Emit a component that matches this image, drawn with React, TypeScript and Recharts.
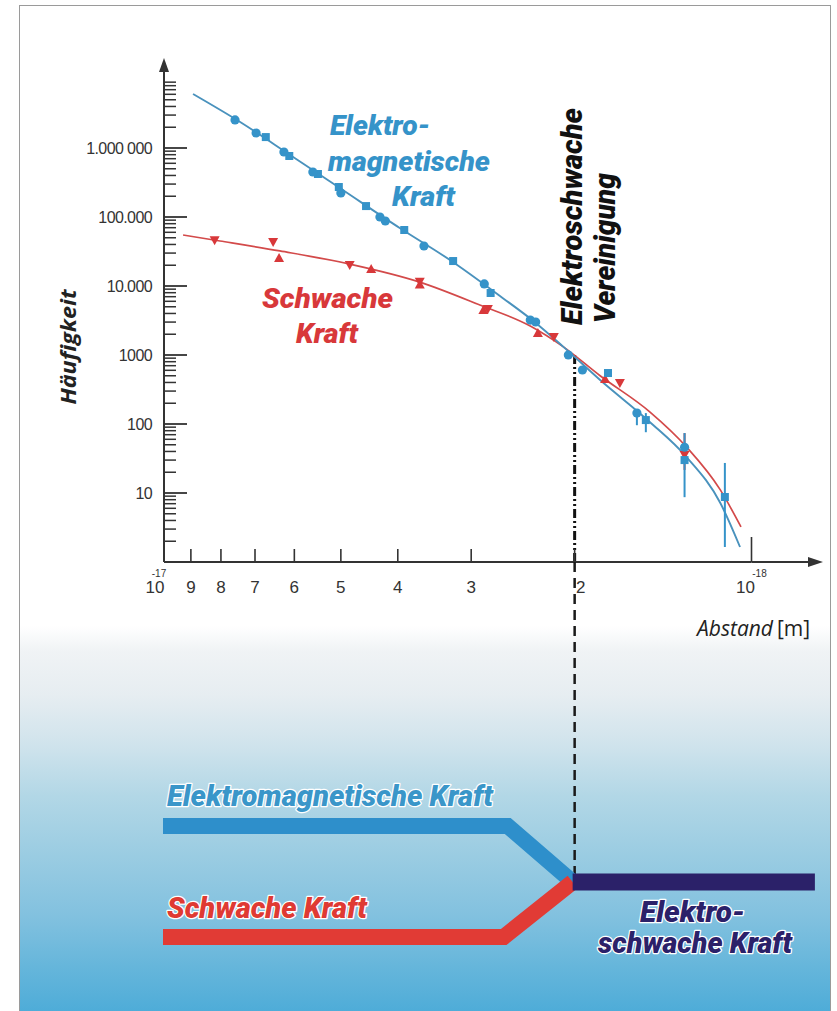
import React from 'react';
import { ComposedChart, Line, Scatter, XAxis, YAxis, ErrorBar, ReferenceLine } from 'recharts';

// ---------- data (x in units of 1e-18 m, y = Häufigkeit) ----------
const emCircles = [
  { x: 7.57, y: 2550000 }, { x: 6.97, y: 1650000 }, { x: 6.25, y: 875000 },
  { x: 5.58, y: 449000 }, { x: 5.0, y: 223000 }, { x: 4.29, y: 100000 },
  { x: 4.2, y: 87500 }, { x: 3.61, y: 38000 }, { x: 2.85, y: 10700 },
  { x: 2.38, y: 3210 }, { x: 2.33, y: 3010 }, { x: 2.05, y: 1000 },
  { x: 1.94, y: 606 }, { x: 1.567, y: 144, err: [48, 16] }, { x: 1.3, y: 46 },
];
const emSquares = [
  { x: 6.71, y: 1440000 }, { x: 6.12, y: 766000 }, { x: 5.47, y: 420000 },
  { x: 5.04, y: 272000 }, { x: 4.53, y: 144000 }, { x: 3.9, y: 64800 },
  { x: 3.22, y: 23000 }, { x: 2.78, y: 7920 }, { x: 1.755, y: 548 },
  { x: 1.513, y: 114, err: [38, 30] }, { x: 1.3, y: 30, err: [21.3, 44] },
  { x: 1.11, y: 8.75, err: [7.1, 18.5] },
];
const weakDown = [
  { x: 8.2, y: 46000 }, { x: 6.52, y: 43400 }, { x: 4.83, y: 20200 },
  { x: 3.67, y: 11500 }, { x: 2.81, y: 4640 }, { x: 2.17, y: 1820 },
  { x: 1.675, y: 393 }, { x: 1.3, y: 35.6, err: [14, 38] },
];
const weakUp = [
  { x: 6.37, y: 25500 }, { x: 4.44, y: 17600 }, { x: 3.67, y: 10500 },
  { x: 2.86, y: 4490 }, { x: 2.31, y: 2080 }, { x: 1.775, y: 449 },
];
const emFit = [
  { x: 8.925, y: 6060000 }, { x: 7.42, y: 2380000 }, { x: 6.1, y: 792000 },
  { x: 5.02, y: 263000 }, { x: 3.97, y: 69300 }, { x: 3.26, y: 23800 },
  { x: 2.68, y: 7160 }, { x: 2.34, y: 3010 }, { x: 2.09, y: 1310 },
  { x: 1.81, y: 434 }, { x: 1.49, y: 107 }, { x: 1.29, y: 33.2 },
  { x: 1.13, y: 7.16 }, { x: 1.046, y: 1.65 },
];
const weakFit = [
  { x: 9.28, y: 54800 }, { x: 8.03, y: 44900 }, { x: 6.35, y: 32200 },
  { x: 4.83, y: 20800 }, { x: 3.67, y: 11400 }, { x: 2.9, y: 5310 },
  { x: 2.38, y: 2630 }, { x: 2.09, y: 1310 }, { x: 1.81, y: 500 },
  { x: 1.49, y: 150 }, { x: 1.29, y: 46.4 }, { x: 1.13, y: 11.1 },
  { x: 1.042, y: 3.22 },
];

// ---------- ticks ----------
const xTickValues = [10, 9, 8, 7, 6, 5, 4, 3, 2, 1];
const xTickLabels = ['10', '9', '8', '7', '6', '5', '4', '3', '2', '10'];
const xTickExponents = ['-17', '', '', '', '', '', '', '', '', '-18'];
const yMajorValues = [10, 100, 1000, 10000, 100000, 1000000];
const yMajorLabels = ['10', '100', '1000', '10.000', '100.000', '1.000 000'];
const yDecades = [1, 10, 100, 1000, 10000, 100000, 1000000];
const yMultipliers = [1, 2, 3, 4, 5, 6, 7, 8, 9];
const yAllTicks = yDecades.flatMap((d) => yMultipliers.map((m) => d * m)).filter((v) => v > 1);

const unificationX = 2; // Elektroschwache Vereinigung
const schemeX = { start: 10, bend: 2.6, merge: 2, end: 0.78 };

// ---------- layout ----------
const W = 837;
const H = 1011;
const PLOT = { left: 164, right: 751.5, top: 79, bottom: 562 };
const Y_AXIS_W = 60;
const X_AXIS_H = 40;
const pxX = (v: number) => PLOT.left + (1 - Math.log10(v)) * (PLOT.right - PLOT.left);

const BLUE = '#3593c9';
const BLUE_LINE = '#4a92bd';
const RED = '#d8383a';
const RED_LINE = '#d34a4a';
const NAVY = '#2b2169';
const AXIS = '#333';
const SANS = '"Liberation Sans", Arial, sans-serif';
const COND = 'Roboto, "Liberation Sans", sans-serif';

const XTick = (props: any) => {
  const { x, y, payload } = props;
  const i = xTickValues.indexOf(payload.value);
  const label = xTickLabels[i];
  const exp = xTickExponents[i];
  const isLeft = payload.value === 10;
  const isRight = payload.value === 1;
  const dx = isLeft ? -9 : isRight ? -6 : payload.value === 2 ? 6 : 0;
  return (
    <g>
      {!isLeft && (
        <line x1={x} y1={y} x2={x} y2={y - (isRight ? 25 : 13)} stroke={AXIS} strokeWidth={1.6} />
      )}
      <text x={x + dx} y={y + 31} textAnchor="middle" fontFamily={SANS} fontSize={17} fill={AXIS}>
        {label}
      </text>
      {exp && (
        <text x={x + dx + (isLeft ? 4 : 14)} y={y + 15} textAnchor="middle" fontFamily={SANS} fontSize={10} fill={AXIS}>
          {exp}
        </text>
      )}
    </g>
  );
};

const YTick = (props: any) => {
  const { x, y, payload } = props;
  const i = yMajorValues.indexOf(payload.value);
  const major = i >= 0;
  return (
    <g>
      <line x1={x} y1={y} x2={x + (major ? 23 : 12)} y2={y} stroke={AXIS} strokeWidth={major ? 1.8 : 1.5} />
      {major && (
        <text x={x - 12} y={y + 6} textAnchor="end" fontFamily={SANS} fontSize={16} letterSpacing={-0.6} fill={AXIS}>
          {yMajorLabels[i]}
        </text>
      )}
    </g>
  );
};

const shapeCircle = (color: string) => (p: any) => <circle cx={p.cx} cy={p.cy} r={4.6} fill={color} />;
const shapeSquare = (color: string) => (p: any) => (
  <rect x={p.cx - 4} y={p.cy - 4} width={8} height={8} fill={color} />
);
const shapeUp = (color: string) => (p: any) => (
  <path d={`M${p.cx},${p.cy - 5} L${p.cx + 5},${p.cy + 4} L${p.cx - 5},${p.cy + 4} Z`} fill={color} />
);
const shapeDown = (color: string) => (p: any) => (
  <path d={`M${p.cx},${p.cy + 5} L${p.cx + 5},${p.cy - 4} L${p.cx - 5},${p.cy - 4} Z`} fill={color} />
);

const outlined = { stroke: '#ffffff', strokeWidth: 2.5, paintOrder: 'stroke' as const, strokeLinejoin: 'round' as const };

export default function App() {
  const xs = pxX(schemeX.start) - 1;
  const xb = pxX(schemeX.bend);
  const xm = pxX(schemeX.merge);
  const xe = pxX(schemeX.end);
  const xu = pxX(unificationX);
  return (
    <div style={{ position: 'absolute', left: 0, top: 0, width: W, height: H, background: '#fff', overflow: 'hidden' }}>
      <div
        style={{
          position: 'absolute', left: 19, top: 5, width: 810, height: H,
          borderLeft: '1px solid #9a9a9a', borderTop: '1px solid #9a9a9a', borderRight: '1px solid #9a9a9a',
          background:
            'linear-gradient(to bottom, #ffffff 0px, #ffffff 620px, #f0f3f5 645px, #e6edf1 690px, #cfe3ec 740px, #b2d7e6 790px, #9acce2 850px, #82c1df 910px, #66b6db 960px, #4eacd8 1006px)',
        }}
      />
      <div style={{ position: 'absolute', left: 0, top: 0 }}>
        <ComposedChart
          width={W}
          height={H}
          margin={{
            top: PLOT.top,
            right: W - PLOT.right,
            bottom: H - PLOT.bottom - X_AXIS_H,
            left: PLOT.left - Y_AXIS_W,
          }}
        >
          <XAxis
            type="number"
            dataKey="x"
            scale="log"
            domain={[1, 10]}
            reversed
            allowDataOverflow
            ticks={xTickValues}
            interval={0}
            height={X_AXIS_H}
            tickSize={0}
            tickMargin={0}
            tickLine={false}
            axisLine={{ stroke: AXIS, strokeWidth: 2 }}
            tick={<XTick />}
          />
          <YAxis
            type="number"
            dataKey="y"
            scale="log"
            domain={[1, 10000000]}
            allowDataOverflow
            ticks={yAllTicks}
            interval={0}
            width={Y_AXIS_W}
            tickSize={0}
            tickMargin={0}
            tickLine={false}
            axisLine={{ stroke: AXIS, strokeWidth: 2 }}
            tick={<YTick />}
          />
          <ReferenceLine
            segment={[{ x: unificationX, y: 1 }, { x: unificationX, y: 1100 }]}
            stroke="#111"
            strokeWidth={3}
            strokeDasharray="9 3 2 3 2 3"
          />
          <Line data={weakFit} dataKey="y" type="monotone" stroke={RED_LINE} strokeWidth={1.7} dot={false} isAnimationActive={false} />
          <Line data={emFit} dataKey="y" type="monotone" stroke={BLUE_LINE} strokeWidth={1.9} dot={false} isAnimationActive={false} />
          <Scatter data={weakDown} fill={RED} shape={shapeDown(RED)} isAnimationActive={false}>
            <ErrorBar dataKey="err" direction="y" width={0} stroke={RED} strokeWidth={2} isAnimationActive={false} />
          </Scatter>
          <Scatter data={weakUp} fill={RED} shape={shapeUp(RED)} isAnimationActive={false} />
          <Scatter data={emSquares} fill={BLUE} shape={shapeSquare(BLUE)} isAnimationActive={false}>
            <ErrorBar dataKey="err" direction="y" width={0} stroke={BLUE} strokeWidth={2} isAnimationActive={false} />
          </Scatter>
          <Scatter data={emCircles} fill={BLUE} shape={shapeCircle(BLUE)} isAnimationActive={false}>
            <ErrorBar dataKey="err" direction="y" width={0} stroke={BLUE} strokeWidth={2} isAnimationActive={false} />
          </Scatter>
        </ComposedChart>
      </div>
      <svg width={W} height={H} style={{ position: 'absolute', left: 0, top: 0, pointerEvents: 'none' }}>
        {/* axis extensions with arrows */}
        <line x1={PLOT.left} y1={PLOT.top} x2={PLOT.left} y2={68} stroke={AXIS} strokeWidth={2} />
        <path d={`M${PLOT.left},58 L${PLOT.left + 5},72 L${PLOT.left - 5},72 Z`} fill={AXIS} />
        <line x1={PLOT.right} y1={PLOT.bottom} x2={812} y2={PLOT.bottom} stroke={AXIS} strokeWidth={2} />
        <path d={`M823,${PLOT.bottom} L808,${PLOT.bottom - 5} L808,${PLOT.bottom + 5} Z`} fill={AXIS} />

        {/* dashed unification line below axis */}
        <line x1={xu} y1={PLOT.bottom} x2={xu} y2={878} stroke="#1a1a1a" strokeWidth={2.5} strokeDasharray="10 6" />

        {/* axis titles */}
        <text
          transform="translate(76,347) rotate(-90)"
          textAnchor="middle"
          fontFamily='"Open Sans", sans-serif'
          fontWeight={700}
          fontStyle="italic"
          fontSize={22}
          fill="#222"
          textLength={115}
          lengthAdjust="spacingAndGlyphs"
        >
          Häufigkeit
        </text>
        <text x={697} y={636} fontFamily='"Open Sans", sans-serif' fontSize={21} fill="#222">
          <tspan fontStyle="italic">Abstand</tspan>
          <tspan dx={4}>[m]</tspan>
        </text>

        {/* curve labels */}
        <g fontFamily={COND} fontWeight={900} fontStyle="italic" fontSize={28}>
          <text x={330} y={135} fill={BLUE} textLength={100} lengthAdjust="spacingAndGlyphs">Elektro-</text>
          <text x={328} y={171} fill={BLUE} textLength={162} lengthAdjust="spacingAndGlyphs">magnetische</text>
          <text x={392} y={206} fill={BLUE} textLength={63} lengthAdjust="spacingAndGlyphs">Kraft</text>
          <text x={262} y={308} fill={RED} textLength={131} lengthAdjust="spacingAndGlyphs">Schwache</text>
          <text x={296} y={343} fill={RED} textLength={62} lengthAdjust="spacingAndGlyphs">Kraft</text>
          <text transform="translate(582,325) rotate(-90)" fill="#111" fontSize={30} textLength={217} lengthAdjust="spacingAndGlyphs">
            Elektroschwache
          </text>
          <text transform="translate(615,323) rotate(-90)" fill="#111" fontSize={30} textLength={150} lengthAdjust="spacingAndGlyphs">
            Vereinigung
          </text>
        </g>

        {/* schematic of the unification */}
        <polyline points={`${xs},826 ${xb},826 ${xm - 2},882`} fill="none" stroke="#2e8fcb" strokeWidth={16} strokeLinejoin="miter" />
        <polyline points={`${xs},937 ${xb - 4},937 ${xm - 2},882`} fill="none" stroke="#e13b35" strokeWidth={16} strokeLinejoin="miter" />
        <line x1={xm - 2} y1={882} x2={xe} y2={882} stroke={NAVY} strokeWidth={17} />
        <g fontFamily={COND} fontWeight={900} fontStyle="italic" fontSize={29}>
          <text x={167} y={806} fill="#3a96c9" {...outlined} textLength={326} lengthAdjust="spacingAndGlyphs">
            Elektromagnetische Kraft
          </text>
          <text x={167} y={918} fill="#df3a33" {...outlined} textLength={200} lengthAdjust="spacingAndGlyphs">
            Schwache Kraft
          </text>
          <text x={640} y={922} fill={NAVY} {...outlined} textLength={105} lengthAdjust="spacingAndGlyphs">
            Elektro-
          </text>
          <text x={598} y={953} fill={NAVY} {...outlined} textLength={194} lengthAdjust="spacingAndGlyphs">
            schwache Kraft
          </text>
        </g>
      </svg>
    </div>
  );
}
